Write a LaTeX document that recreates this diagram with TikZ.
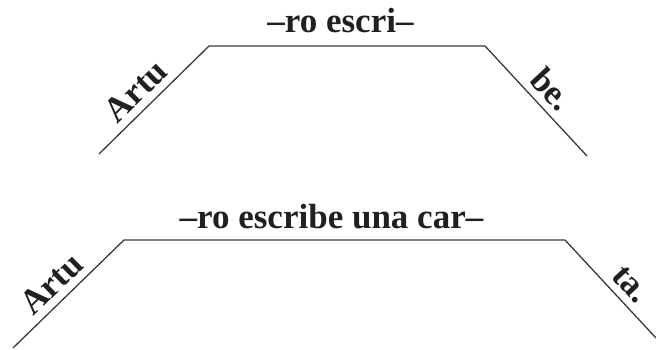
\documentclass[tikz,border=0pt]{standalone}
\usepackage{fontspec}
\setmainfont{Liberation Serif}
\definecolor{ink}{HTML}{231F20}
\definecolor{linegray}{HTML}{3A3A3A}
\begin{document}
\begin{tikzpicture}[x=1pt,y=-1pt,
  frameline/.style={draw=linegray,line width=1.3pt,line join=miter},
  wordtext/.style={text=ink,font=\bfseries\fontsize{35}{40}\selectfont},
  sidetext/.style={wordtext,sloped,above,inner sep=7pt}]
\useasboundingbox (0,0) rectangle (656,350);
\clip (0,0) rectangle (656,350);
% top trapezoid
\coordinate (a1) at (99,154);
\coordinate (a2) at (209,46);
\coordinate (a3) at (485,46);
\coordinate (a4) at (587,156);
\draw[frameline] (a1) -- node[sidetext,pos=0.457] (artuA) {Artu} (a2)
  -- (a3) -- node[sidetext,pos=0.515] (beA) {be.} (a4);
\node[wordtext,anchor=base] (midA) at (340.5,33) {–ro escri–};
% bottom trapezoid
\coordinate (b1) at (13,348);
\coordinate (b2) at (124,240);
\coordinate (b3) at (565,240);
\coordinate (b4) at (656,338);
\draw[frameline] (b1) -- node[sidetext,pos=0.468] (artuB) {Artu} (b2)
  -- (b3) -- node[sidetext,pos=0.576] (taB) {ta.} (b4);
\node[wordtext,anchor=base] (midB) at (331.5,228) {–ro escribe una car–};
\end{tikzpicture}
\end{document}
